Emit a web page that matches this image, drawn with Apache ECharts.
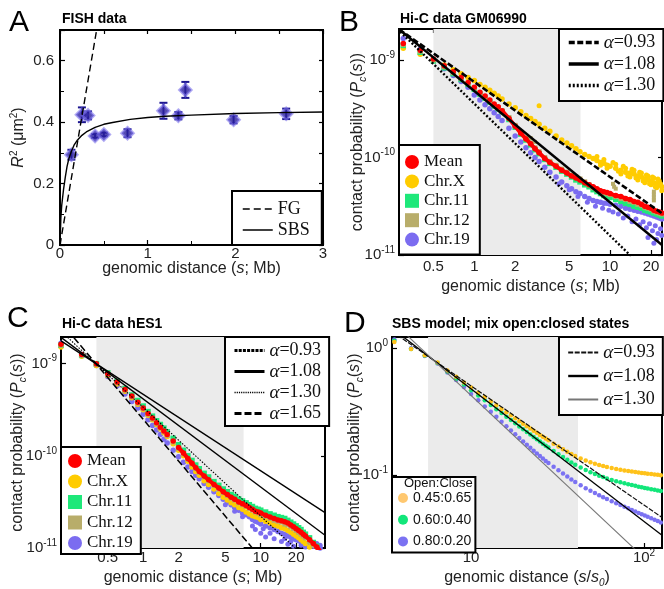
<!DOCTYPE html>
<html><head><meta charset="utf-8">
<script src="https://cdn.jsdelivr.net/npm/echarts@6/dist/echarts.min.js"></script>
<style>html,body{margin:0;padding:0;background:#fff}#c{width:664px;height:589px}</style>
</head><body><div id="c"></div><script>
// ---------- Panel A : FISH data ----------
const fishS   = [0.13,0.25,0.32,0.40,0.50,0.77,1.18,1.35,1.43,1.98,2.58];
const fishR2  = [0.294,0.424,0.422,0.355,0.360,0.364,0.437,0.421,0.505,0.408,0.427];
const fishErr = [0.016,0.024,0.013,0.006,0.006,0.013,0.026,0.012,0.026,0.012,0.017];
const sbsS  = [0,0.01,0.02,0.04,0.06,0.08,0.1,0.13,0.16,0.2,0.25,0.3,0.4,0.5,0.6,0.8,1.0,1.2,1.5,2.0,2.5,3.0];
const sbsR2 = [0,0.09,0.13,0.18,0.22,0.255,0.28,0.305,0.325,0.342,0.357,0.368,0.383,0.393,0.399,0.409,0.415,0.419,0.423,0.428,0.431,0.433];
const fgS  = [0, 0.45];
const fgR2 = [0, 0.754];

// ---------- Panel B : Hi-C GM06990 (values are log10 of contact probability) ----------
const sB = [0.3,0.4,0.5,0.6,0.7,0.8,0.9,1.0,1.1,1.2,1.3,1.4,1.5,1.6,
  1.8,2.0,2.2,2.4,2.6,2.8,3.0,3.3,3.6,
  4.0,4.4,4.8,5.2,5.6,6.0,6.5,7.0,7.5,8.0,8.5,9.0,9.5,
  10,11,12,13,14,15,16,17,18,19,20,21,22,23,24];
const bMean = [-8.83,-8.90,-8.99,-9.06,-9.12,-9.18,-9.23,-9.28,-9.33,-9.37,-9.41,-9.45,-9.48,-9.52,
  -9.60,-9.68,-9.75,-9.81,-9.86,-9.91,-9.95,-10.01,-10.05,
  -10.09,-10.13,-10.16,-10.19,-10.21,-10.23,-10.26,-10.28,-10.30,-10.32,-10.34,-10.35,-10.36,
  -10.37,-10.39,-10.40,-10.42,-10.43,-10.45,-10.46,-10.48,-10.50,-10.51,-10.52,-10.54,-10.55,-10.56,-10.57];
const bChrX = [-8.88,-8.94,-9.00,-9.05,-9.10,-9.14,-9.18,-9.21,-9.25,-9.28,-9.31,-9.34,-9.37,-9.40,
  -9.45,-9.49,-9.53,-9.57,-9.60,-9.63,-9.66,-9.70,-9.73,
  -9.78,-9.82,-9.85,-9.88,-9.91,-9.94,-9.97,-9.99,-10.01,-10.03,-10.05,-10.06,-10.08,
  -10.09,-10.11,-10.13,-10.15,-10.16,-10.17,-10.19,-10.20,-10.22,-10.23,-10.24,-10.26,-10.27,-10.28,-10.30];
const bChr11 = [-8.85,-8.92,-9.01,-9.08,-9.14,-9.20,-9.25,-9.30,-9.35,-9.39,-9.43,-9.47,-9.50,-9.53,
  -9.61,-9.69,-9.76,-9.82,-9.87,-9.92,-9.96,-10.02,-10.06,
  -10.10,-10.14,-10.17,-10.20,-10.23,-10.25,-10.28,-10.30,-10.33,-10.35,-10.37,-10.39,-10.40,
  -10.41,-10.43,-10.45,-10.47,-10.48,-10.50,-10.51,-10.52,-10.54,-10.55,-10.56,-10.57,-10.58,-10.59,-10.60];
const bChr12 = [-8.84,-8.91,-9.00,-9.07,-9.13,-9.19,-9.24,-9.29,-9.34,-9.38,-9.42,-9.46,-9.49,-9.52,
  -9.59,-9.67,-9.74,-9.80,-9.85,-9.90,-9.94,-10.00,-10.04,
  -10.08,-10.12,-10.15,-10.18,-10.20,-10.22,-10.25,-10.28,-10.31,-10.33,-10.35,-10.36,-10.37,
  -10.38,-10.40,-10.42,-10.43,-10.45,-10.46,-10.48,-10.49,-10.51,-10.52,-10.53,-10.55,-10.56,-10.57,-10.58];
const bChr19 = [-8.78,-8.89,-9.00,-9.09,-9.16,-9.22,-9.28,-9.36,-9.41,-9.46,-9.50,-9.54,-9.58,-9.62,
  -9.70,-9.78,-9.84,-9.90,-9.95,-10.00,-10.04,-10.10,-10.15,
  -10.20,-10.25,-10.29,-10.32,-10.35,-10.37,-10.40,-10.42,-10.44,-10.45,-10.46,-10.47,-10.47,
  -10.48,-10.49,-10.50,-10.52,-10.53,-10.54,-10.55,-10.56,-10.57,-10.58,-10.59,-10.60,-10.61,-10.62,-10.63];
const bChrXExtra = [[3.0,-9.47],[8,-9.99],[8.5,-10.08],[9,-10.02],[9.5,-10.11],[10.5,-10.05],[11,-10.07],[11.5,-10.14],
  [12,-10.17],[12.5,-10.09],[13,-10.11],[13.5,-10.19],[14,-10.20],[14.5,-10.12],[15,-10.13],[15.5,-10.21],[16,-10.23],
  [16.5,-10.15],[17,-10.16],[17.5,-10.24],[18,-10.26],[18.5,-10.18],[19,-10.19],[19.5,-10.27],[20,-10.28],
  [20.5,-10.20],[21,-10.21],[21.5,-10.30],[22,-10.31],[22.5,-10.22],[23,-10.24],[23.5,-10.27],[24,-10.34]];
const bChr12Extra = [[10.5,-10.27],[10.7,-10.30],[11,-10.32],[21,-10.35],[21,-10.38],[21,-10.41],[21,-10.44],[2.6,-9.80],[2.8,-9.84]];
const bChr19Extra = [[4.2,-10.27],[5.0,-10.33],[5.8,-10.40],[6.8,-10.46],[7.8,-10.50],[8.8,-10.52],[9.8,-10.54],
  [10.5,-10.56],[11.5,-10.58],[12.5,-10.62],[13.5,-10.60],[14.5,-10.66],[15.5,-10.63],[16.5,-10.69],[17.5,-10.66],
  [18.5,-10.72],[19.5,-10.68],[20.5,-10.75],[21.5,-10.70],[22.5,-10.78],[23.5,-10.73],[14,-10.48],[17,-10.50],
  [20,-10.53],[23,-10.56],[19,-10.82],[21,-10.88],[22,-10.84],[24,-10.80]];
const bLine093 = [[0.279,-8.685],[24.1,-10.572]];
const bLine108 = [[0.279,-8.685],[24.1,-10.897]];
const bLine130 = [[0.285,-8.71],[24.1,-11.32]];

// ---------- Panel C : Hi-C hES1 (log10 values) ----------
const sC = [0.2,
  0.3,0.4,0.5,0.6,0.7,0.8,0.9,1.0,1.1,1.2,1.3,1.4,1.5,1.6,
  1.8,2.0,2.2,2.4,2.6,2.8,3.0,3.3,3.6,
  4.0,4.4,4.8,5.2,5.6,6.0,6.5,7.0,7.5,8.0,8.5,9.0,9.5,
  10,11,12,13,14,15,16,17,18,19,20,21,22,23,24,
  26,28,30,32];
const cMean = [-8.79,
  -8.90,-9.00,-9.11,-9.20,-9.28,-9.35,-9.42,-9.48,-9.54,-9.59,-9.64,-9.69,-9.73,-9.77,
  -9.84,-9.91,-9.97,-10.03,-10.08,-10.13,-10.17,-10.22,-10.26,
  -10.31,-10.35,-10.39,-10.42,-10.45,-10.47,-10.50,-10.52,-10.54,-10.56,-10.58,-10.60,-10.61,
  -10.62,-10.645,-10.665,-10.68,-10.695,-10.705,-10.715,-10.73,-10.75,-10.77,-10.79,-10.81,-10.83,-10.85,-10.87,
  -10.91,-10.95,-10.99,-11.03];
const cChrX = [-8.82,
  -8.92,-9.02,-9.13,-9.22,-9.30,-9.37,-9.44,-9.50,-9.56,-9.61,-9.66,-9.71,-9.75,-9.79,
  -9.87,-9.94,-10.00,-10.06,-10.12,-10.17,-10.21,-10.27,-10.31,
  -10.36,-10.41,-10.45,-10.48,-10.51,-10.53,-10.56,-10.58,-10.61,-10.63,-10.65,-10.66,-10.67,
  -10.69,-10.71,-10.73,-10.75,-10.76,-10.78,-10.79,-10.81,-10.83,-10.85,-10.87,-10.89,-10.91,-10.93,-10.95,
  -10.99,-11.03,-11.07,-11.11];
const cChr11 = [-8.80,
  -8.91,-9.00,-9.10,-9.19,-9.27,-9.34,-9.40,-9.46,-9.52,-9.57,-9.62,-9.66,-9.70,-9.74,
  -9.81,-9.88,-9.94,-10.00,-10.05,-10.10,-10.14,-10.19,-10.23,
  -10.28,-10.32,-10.36,-10.39,-10.42,-10.44,-10.47,-10.49,-10.51,-10.53,-10.55,-10.57,-10.58,
  -10.59,-10.61,-10.63,-10.645,-10.66,-10.67,-10.68,-10.70,-10.72,-10.74,-10.76,-10.78,-10.80,-10.83,-10.85,
  -10.89,-10.94,-10.98,-11.02];
const cChr12 = [-8.80,
  -8.91,-9.01,-9.12,-9.21,-9.29,-9.36,-9.43,-9.49,-9.55,-9.60,-9.65,-9.70,-9.74,-9.78,
  -9.85,-9.92,-9.98,-10.04,-10.09,-10.14,-10.18,-10.23,-10.27,
  -10.32,-10.36,-10.40,-10.43,-10.46,-10.48,-10.51,-10.53,-10.55,-10.57,-10.59,-10.61,-10.62,
  -10.64,-10.66,-10.68,-10.70,-10.71,-10.72,-10.74,-10.75,-10.77,-10.79,-10.81,-10.83,-10.85,-10.87,-10.89,
  -10.93,-10.97,-11.01,-11.05];
const cChr19 = [-8.78,
  -8.90,-9.02,-9.14,-9.24,-9.33,-9.41,-9.48,-9.55,-9.61,-9.67,-9.72,-9.77,-9.82,-9.86,
  -9.94,-10.01,-10.07,-10.12,-10.17,-10.21,-10.25,-10.30,-10.34,
  -10.39,-10.43,-10.47,-10.50,-10.53,-10.56,-10.59,-10.62,-10.64,-10.66,-10.69,-10.71,-10.72,
  -10.74,-10.76,-10.78,-10.80,-10.82,-10.84,-10.85,-10.87,-10.88,-10.90,-10.91,-10.92,-10.93,-10.94,-10.95,
  -10.97,-10.98,-10.99,-11.00];
const cChr19Extra = [[8.5,-10.76],[9,-10.80],[9.5,-10.68],[10,-10.84],[10.5,-10.79],[11,-10.88],[12,-10.84],[13,-10.90],
  [14,-10.76],[15,-10.93],[16,-10.90],[17,-10.96],[18,-10.93],[19,-10.98],[20,-10.86],[22,-10.97],[24,-10.99],
  [26,-10.94],[28,-10.96],[30,-10.95],[32,-10.97],[7,-10.66],[6,-10.60],[5,-10.53]];
const cLine093 = [[0.2,-8.753],[35.2,-10.616]];
const cLine108 = [[0.2,-8.715],[35.2,-10.862]];
const cLine130 = [[0.2,-8.649],[35.2,-11.30]];
const cLine165 = [[0.2,-8.553],[35.2,-11.93]];

// ---------- Panel D : SBS model (log10 values) ----------
const sD = [3.6,4.5,5.4,6.4,7.3,8.2,9.1,
  10,11,12,13,14,15,16,17,18,19,20,21,22,23,24,25,26,27,28,
  30,32,34,36,38,40,
  43,46,49,52,55,58,61,
  65,69,73,77,81,85,89,93,97,101,105,110,115,120,125];
const dOpen45 = [0.05,-0.005,-0.055,-0.112,-0.175,-0.225,-0.27,
  -0.31,-0.35,-0.385,-0.42,-0.45,-0.478,-0.504,-0.529,-0.552,-0.575,-0.595,-0.615,-0.633,-0.651,-0.667,-0.683,-0.698,-0.712,-0.726,
  -0.752,-0.775,-0.796,-0.816,-0.834,-0.85,
  -0.869,-0.885,-0.898,-0.91,-0.92,-0.929,-0.937,
  -0.945,-0.952,-0.958,-0.963,-0.968,-0.972,-0.976,-0.98,-0.983,-0.986,-0.989,-0.992,-0.995,-0.998,-1.001];
const dOpen60 = [0.06,-0.005,-0.057,-0.117,-0.185,-0.24,-0.285,
  -0.33,-0.372,-0.41,-0.447,-0.48,-0.51,-0.54,-0.566,-0.592,-0.616,-0.638,-0.66,-0.68,-0.70,-0.718,-0.736,-0.752,-0.768,-0.783,
  -0.81,-0.835,-0.858,-0.88,-0.90,-0.918,
  -0.94,-0.96,-0.977,-0.992,-1.005,-1.016,-1.026,
  -1.038,-1.048,-1.057,-1.065,-1.072,-1.079,-1.085,-1.091,-1.096,-1.101,-1.106,-1.111,-1.116,-1.121,-1.126];
const dOpen80 = [0.07,0.0,-0.06,-0.12,-0.19,-0.25,-0.305,
  -0.36,-0.41,-0.46,-0.50,-0.54,-0.58,-0.615,-0.648,-0.678,-0.707,-0.735,-0.76,-0.785,-0.808,-0.83,-0.85,-0.87,-0.888,-0.905,
  -0.935,-0.962,-0.988,-1.012,-1.034,-1.054,
  -1.08,-1.103,-1.123,-1.142,-1.159,-1.175,-1.189,
  -1.206,-1.222,-1.236,-1.249,-1.261,-1.275,-1.287,-1.298,-1.308,-1.318,-1.328,-1.34,-1.352,-1.363,-1.374];
const dLine093 = [[3.49,0.133],[127,-1.334]];
const dLine108 = [[3.49,0.158],[127,-1.475]];
const dLine130 = [[3.49,0.213],[127,-1.785]];

// tick labels
const ticksBC = [0.5,1,2,5,10,20];
const ticksD = [10,100];
const decB = [1e-11,1e-10,1e-9];
const decD = [0.1,1];

// ---------- helpers ----------
const FS = 'Liberation Sans', SER = 'Liberation Serif';
const pts = (s, v) => s.map((x, i) => [x, Math.pow(10, v[i])]);
const ptsXY = a => a.map(p => [p[0], Math.pow(10, p[1])]);
const lin = (s, v) => s.map((x, i) => [x, v[i]]);
function merge(a, b) {
  const o = Object.assign({}, a);
  for (const k in b) {
    if (b[k] && typeof b[k] === 'object' && !Array.isArray(b[k]) && a[k] && typeof a[k] === 'object' && !Array.isArray(a[k])) o[k] = merge(a[k], b[k]);
    else o[k] = b[k];
  }
  return o;
}
const rich = {
  sup: {fontSize: 10, lineHeight: 10, verticalAlign: 'top', fontFamily: FS, color: '#222'},
  sub: {fontSize: 10, lineHeight: 10, verticalAlign: 'bottom', fontFamily: FS, fontStyle: 'italic', color: '#222'},
  i: {fontStyle: 'italic', fontFamily: FS, fontSize: 16, lineHeight: 20, color: '#222'}
};
const expFmt = v => { const e = Math.round(Math.log10(v)); return e === 1 ? '10' : '10{sup|' + e + '}'; };
const base = {
  axisLine: {show: true, onZero: false, lineStyle: {color: '#000', width: 2}},
  axisTick: {show: true, inside: true, length: 5, lineStyle: {color: '#000', width: 1.2}},
  splitLine: {show: false},
  minorTick: {show: false},
  axisLabel: {color: '#222', fontFamily: FS, fontSize: 15, lineHeight: 20, rich: rich},
  nameLocation: 'middle',
  nameMoveOverlap: false,
  nameTextStyle: {color: '#222', fontFamily: FS, fontSize: 16, lineHeight: 20, rich: rich}
};
const ax = o => merge(base, o);
const mirror = o => merge(base, merge({axisLabel: {show: false}, axisTick: {length: 4}}, o));

const xAxis = [
  ax({gridIndex: 0, type: 'value', min: 0, max: 3, interval: 1, name: 'genomic distance ({i|s}; Mb)', nameGap: 14,
      axisLabel: {margin: 1, lineHeight: 15}, minorTick: {show: true, splitNumber: 2, length: 4, lineStyle: {color: '#000'}}}),
  ax({gridIndex: 1, type: 'log', min: 0.279, max: 24.1, name: 'genomic distance ({i|s}; Mb)', nameGap: 22,
      axisLabel: {margin: 2, customValues: ticksBC, formatter: v => String(v)}, axisTick: {customValues: ticksBC}}),
  ax({gridIndex: 2, type: 'log', min: 0.2, max: 35.2, name: 'genomic distance ({i|s}; Mb)', nameGap: 20,
      axisLabel: {margin: 0, customValues: ticksBC, formatter: v => String(v)}, axisTick: {customValues: ticksBC}}),
  ax({gridIndex: 3, type: 'log', min: 3.49, max: 127, name: 'genomic distance ({i|s}/{i|s}{sub|0})', nameGap: 20,
      axisLabel: {margin: 0, customValues: ticksD, formatter: expFmt}, axisTick: {customValues: ticksD}}),
  mirror({gridIndex: 0, type: 'value', position: 'top', min: 0, max: 3, interval: 0.5}),
  mirror({gridIndex: 1, type: 'log', position: 'top', min: 0.279, max: 24.1, axisTick: {customValues: ticksBC}}),
  mirror({gridIndex: 2, type: 'log', position: 'top', min: 0.2, max: 35.2, axisTick: {customValues: ticksBC}}),
  mirror({gridIndex: 3, type: 'log', position: 'top', min: 3.49, max: 127, axisTick: {customValues: ticksD}})
];
const yAxis = [
  ax({gridIndex: 0, type: 'value', min: 0, max: 0.7, interval: 0.2, name: '{i|R}{sup|2} (μm{sup|2})', nameGap: 31,
      axisLabel: {margin: 6, formatter: v => (Math.abs(v - 0.7) < 1e-6 ? '' : String(Math.round(v * 10) / 10))},
      minorTick: {show: true, splitNumber: 2, length: 4, lineStyle: {color: '#000'}}}),
  ax({gridIndex: 1, type: 'log', min: 1e-11, max: Math.pow(10, -8.682), name: 'contact probability ({i|P}{sub|c}({i|s}))', nameGap: 31,
      axisLabel: {margin: 4, customValues: decB, formatter: expFmt}, axisTick: {customValues: decB}}),
  ax({gridIndex: 2, type: 'log', min: 1e-11, max: Math.pow(10, -8.711), name: 'contact probability ({i|P}{sub|c}({i|s}))', nameGap: 33,
      axisLabel: {margin: 4, customValues: decB, formatter: expFmt}, axisTick: {customValues: decB}}),
  ax({gridIndex: 3, type: 'log', min: Math.pow(10, -1.575), max: Math.pow(10, 0.089), name: 'contact probability ({i|P}{sub|c}({i|s}))', nameGap: 27,
      axisLabel: {margin: 4, customValues: decD, formatter: expFmt}, axisTick: {customValues: decD}}),
  mirror({gridIndex: 0, type: 'value', position: 'right', min: 0, max: 0.7, interval: 0.1}),
  mirror({gridIndex: 1, type: 'log', position: 'right', min: 1e-11, max: Math.pow(10, -8.682), axisTick: {customValues: decB}}),
  mirror({gridIndex: 2, type: 'log', position: 'right', min: 1e-11, max: Math.pow(10, -8.711), axisTick: {customValues: decB}}),
  mirror({gridIndex: 3, type: 'log', position: 'right', min: Math.pow(10, -1.575), max: Math.pow(10, 0.089), axisTick: {customValues: decD}})
];

const COL = {mean: '#ff0000', x: '#ffcc00', c11: '#1ee87a', c12: '#b8ad6a', c19: '#7b6cf0',
             d45: '#ffc21a', d60: '#12e67a', d80: '#7b72f2'};
function sc(name, g, data, color, symbol, size, z) {
  return {name, type: 'scatter', xAxisIndex: g, yAxisIndex: g, data, symbol, symbolSize: size,
          itemStyle: {color, opacity: 1}, z: z || 3, silent: true, clip: true};
}
function ln(name, g, data, color, width, type, z) {
  return {name, type: 'line', xAxisIndex: g, yAxisIndex: g, data, symbol: 'none', showSymbol: false,
          lineStyle: {color, width, type}, itemStyle: {color}, z: z || 6, silent: true, clip: true};
}
function shade(g, a, b) {
  return {type: 'line', xAxisIndex: g, yAxisIndex: g, data: [], z: 1, silent: true,
          markArea: {silent: true, itemStyle: {color: '#ebebeb'}, data: [[{xAxis: a}, {xAxis: b}]]}};
}

const series = [
  // A
  ln('A|FG', 0, lin(fgS, fgR2), '#000', 1.4, [7, 4]),
  ln('A|SBS', 0, lin(sbsS, sbsR2), '#000', 1.4, 'solid'),
  {type: 'custom', xAxisIndex: 0, yAxisIndex: 0, silent: true, z: 4,
   data: fishS.map((s, i) => [s, fishR2[i] - fishErr[i], fishR2[i] + fishErr[i]]),
   encode: {x: 0, y: [1, 2]},
   renderItem: (params, api) => {
     const x = api.value(0), lo = api.coord([x, api.value(1)]), hi = api.coord([x, api.value(2)]), w = 4;
     const st = {stroke: '#1c1690', lineWidth: 2};
     return {type: 'group', children: [
       {type: 'line', shape: {x1: lo[0], y1: lo[1], x2: hi[0], y2: hi[1]}, style: st},
       {type: 'line', shape: {x1: lo[0] - w, y1: lo[1], x2: lo[0] + w, y2: lo[1]}, style: st},
       {type: 'line', shape: {x1: hi[0] - w, y1: hi[1], x2: hi[0] + w, y2: hi[1]}, style: st}]};
   }},
  {name: 'A|FISH', type: 'scatter', xAxisIndex: 0, yAxisIndex: 0, data: lin(fishS, fishR2), symbol: 'diamond', symbolSize: 12,
   itemStyle: {color: '#2a1f9e', borderColor: 'rgba(125,115,235,0.75)', borderWidth: 2.5}, z: 5, silent: true},

  // B
  shade(1, 0.5, 6.05),
  sc('B|Chr.19', 1, pts(sB, bChr19), COL.c19, 'circle', 5.5, 3),
  sc('B|Chr.19x', 1, ptsXY(bChr19Extra), COL.c19, 'circle', 5, 3),
  sc('B|Chr.X', 1, pts(sB, bChrX), COL.x, 'circle', 5.5, 3),
  sc('B|Chr.Xx', 1, ptsXY(bChrXExtra), COL.x, 'circle', 5, 3),
  sc('B|Chr.11', 1, pts(sB, bChr11), COL.c11, 'rect', 5.5, 3),
  sc('B|Chr.12', 1, pts(sB, bChr12), COL.c12, 'rect', 5, 3),
  sc('B|Chr.12x', 1, ptsXY(bChr12Extra), COL.c12, 'rect', 4, 3),
  sc('B|Mean', 1, pts(sB, bMean), COL.mean, 'circle', 5.5, 4),
  ln('B|Meanline', 1, pts(sB, bMean).filter(p => p[0] >= 1.6), COL.mean, 4, 'solid', 4),
  ln('B|a093', 1, ptsXY(bLine093), '#000', 2.6, [6, 2.5]),
  ln('B|a108', 1, ptsXY(bLine108), '#000', 2.4, 'solid'),
  ln('B|a130', 1, ptsXY(bLine130), '#000', 2.4, [2, 2]),

  // C
  shade(2, 0.40, 7.15),
  sc('C|Chr.19', 2, pts(sC, cChr19), COL.c19, 'circle', 5.5, 3),
  sc('C|Chr.19x', 2, ptsXY(cChr19Extra), COL.c19, 'circle', 5, 3),
  sc('C|Chr.X', 2, pts(sC, cChrX), COL.x, 'circle', 5.5, 3),
  sc('C|Chr.11', 2, pts(sC, cChr11), COL.c11, 'rect', 5.5, 3),
  sc('C|Chr.12', 2, pts(sC, cChr12), COL.c12, 'rect', 5, 3),
  sc('C|Mean', 2, pts(sC, cMean), COL.mean, 'circle', 5.5, 4),
  ln('C|Meanline', 2, pts(sC, cMean).filter(p => p[0] >= 2), COL.mean, 4, 'solid', 4),
  ln('C|a093', 2, ptsXY(cLine093), '#000', 1.3, 'solid'),
  ln('C|a108', 2, ptsXY(cLine108), '#000', 1.3, 'solid'),
  ln('C|a130', 2, ptsXY(cLine130), '#000', 1.1, [1.5, 1.5]),
  ln('C|a165', 2, ptsXY(cLine165), '#000', 1.5, [7, 3]),

  // D
  shade(3, 5.64, 41.5),
  sc('D|0.80:0.20', 3, pts(sD, dOpen80), COL.d80, 'circle', 4.5, 3),
  sc('D|0.60:0.40', 3, pts(sD, dOpen60), COL.d60, 'circle', 4.5, 3),
  sc('D|0.45:0.65', 3, pts(sD, dOpen45), COL.d45, 'circle', 4.5, 3),
  ln('D|a093', 3, ptsXY(dLine093), '#111', 1.2, [5, 1.5]),
  ln('D|a108', 3, ptsXY(dLine108), '#000', 1.3, 'solid'),
  ln('D|a130', 3, ptsXY(dLine130), '#777', 1.1, 'solid')
];

const labels = {
  'B|a093': '{a|α}=0.93', 'B|a108': '{a|α}=1.08', 'B|a130': '{a|α}=1.30',
  'C|a093': '{a|α}=0.93', 'C|a108': '{a|α}=1.08', 'C|a130': '{a|α}=1.30', 'C|a165': '{a|α}=1.65',
  'D|a093': '{a|α}=0.93', 'D|a108': '{a|α}=1.08', 'D|a130': '{a|α}=1.30'
};
const legBase = {
  orient: 'vertical', selectedMode: false, backgroundColor: '#fff', borderColor: '#000', borderWidth: 2, borderRadius: 0,
  itemWidth: 30, itemHeight: 14, z: 10,
  formatter: n => labels[n] || n.slice(2),
  textStyle: {fontFamily: SER, fontSize: 18, lineHeight: 18, color: '#111',
              rich: {a: {fontFamily: SER, fontStyle: 'italic', fontSize: 19, lineHeight: 18, color: '#111'}}}
};
const leg = o => merge(legBase, o);
const lineItem = (n, ls) => ({name: n, itemStyle: {opacity: 0}, lineStyle: ls});
const dot = (n, c) => ({name: n, icon: 'circle', itemStyle: {color: c}});
const sq = (n, c) => ({name: n, icon: 'rect', itemStyle: {color: c}});
const legend = [
  leg({left: 232, top: 191, padding: [9, 12, 6, 10], itemGap: 3,
       data: [lineItem('A|FG', {width: 1.5}), lineItem('A|SBS', {width: 1.5})]}),
  leg({left: 559, top: 29, padding: [4, 8, 6, 8], itemGap: 2.5,
       data: [lineItem('B|a093', {width: 3.5}), lineItem('B|a108', {width: 3.5}), lineItem('B|a130', {width: 3.5})]}),
  leg({left: 399, top: 145, padding: [8, 10, 6, 6], itemGap: 1.4, itemWidth: 14, itemHeight: 14,
       textStyle: {fontSize: 17},
       data: [dot('B|Mean', COL.mean), dot('B|Chr.X', COL.x), sq('B|Chr.11', COL.c11), sq('B|Chr.12', COL.c12), dot('B|Chr.19', COL.c19)]}),
  leg({left: 225, top: 337, padding: [4, 8, 3, 8], itemGap: 2,
       data: [lineItem('C|a093', {width: 3, type: [3, 1.2]}), lineItem('C|a108', {width: 3, type: 'solid'}),
              lineItem('C|a130', {width: 1.6, type: [1.2, 1]}), lineItem('C|a165', {width: 3, type: [7, 3]})]}),
  leg({left: 61, top: 447, padding: [5, 8, 2, 7], itemGap: 2.5, itemWidth: 14, itemHeight: 14,
       textStyle: {fontSize: 17},
       data: [dot('C|Mean', COL.mean), dot('C|Chr.X', COL.x), sq('C|Chr.11', COL.c11), sq('C|Chr.12', COL.c12), dot('C|Chr.19', COL.c19)]}),
  leg({left: 559, top: 337, padding: [6, 8, 6, 8], itemGap: 4.5,
       data: [lineItem('D|a093', {width: 2.2}), lineItem('D|a108', {width: 2.4}), lineItem('D|a130', {width: 2})]}),
  leg({left: 392, top: 477, padding: [12, 4, 2, 6], itemGap: 3.7, itemWidth: 10, itemHeight: 10,
       textStyle: {fontFamily: FS, fontSize: 14},
       data: [dot('D|0.45:0.65', '#ffc870'), dot('D|0.60:0.40', COL.d60), dot('D|0.80:0.20', COL.d80)]})
];

const tBig = {fontSize: 30, fontWeight: 'normal', fontFamily: FS, color: '#000'};
const tSmall = {fontSize: 14, fontWeight: 'bold', fontFamily: FS, color: '#000'};
const title = [
  {text: 'A', left: 9, top: 8, padding: 0, textStyle: tBig},
  {text: 'B', left: 339, top: 8, padding: 0, textStyle: tBig},
  {text: 'C', left: 7, top: 304, padding: 0, textStyle: tBig},
  {text: 'D', left: 344, top: 309, padding: 0, textStyle: tBig},
  {text: 'FISH data', left: 62, top: 12, padding: 0, textStyle: tSmall},
  {text: 'Hi-C data GM06990', left: 400, top: 12, padding: 0, textStyle: tSmall},
  {text: 'Hi-C data hES1', left: 62, top: 317, padding: 0, textStyle: tSmall},
  {text: 'SBS model; mix open:closed states', left: 392, top: 317, padding: 0, textStyle: tSmall}
];

const gridBase = {show: true, borderColor: '#000', borderWidth: 2, backgroundColor: '#fff', containLabel: false};
const grid = [
  Object.assign({left: 60, top: 30, width: 263, height: 215}, gridBase),
  Object.assign({left: 399, top: 29, width: 263, height: 226}, gridBase),
  Object.assign({left: 61, top: 337, width: 264, height: 216}, gridBase),
  Object.assign({left: 392, top: 337, width: 270, height: 216}, gridBase)
];

const chart = echarts.init(document.getElementById('c'), null, {renderer: 'canvas'});
chart.setOption({
  animation: false, backgroundColor: '#fff',
  title, grid, xAxis, yAxis, legend, series,
  graphic: [{type: 'text', left: 404, top: 477, z: 100,
             style: {text: 'Open:Close', fontSize: 13, fontFamily: FS, fill: '#111'}}]
});
</script></body></html>
